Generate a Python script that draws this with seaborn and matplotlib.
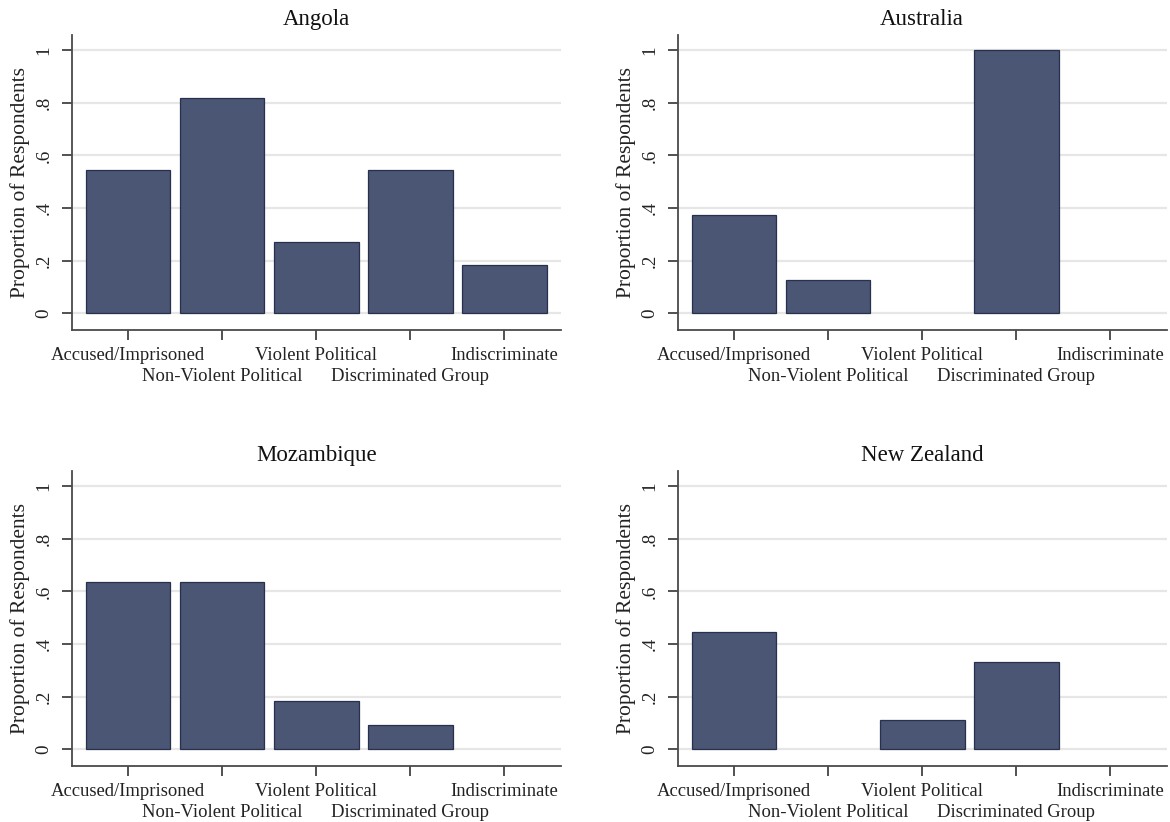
import matplotlib
matplotlib.use("Agg")
import matplotlib.pyplot as plt
import seaborn as sns
import pandas as pd

categories = ["Accused/Imprisoned", "Non-Violent Political", "Violent Political",
              "Discriminated Group", "Indiscriminate"]
countries = ["Angola", "Australia", "Mozambique", "New Zealand"]
angola = [0.545, 0.818, 0.273, 0.545, 0.182]
australia = [0.375, 0.125, 0.0, 1.0, 0.0]
mozambique = [0.636, 0.636, 0.182, 0.091, 0.0]
new_zealand = [0.444, 0.0, 0.111, 0.333, 0.0]
yticks = [0, 0.2, 0.4, 0.6, 0.8, 1.0]
ytick_labels = ["0", ".2", ".4", ".6", ".8", "1"]
ylabel = "Proportion of Respondents"

series = [angola, australia, mozambique, new_zealand]

sns.set_theme(style="white")
plt.rcParams["font.family"] = ["Liberation Serif", "DejaVu Serif"]

W, H = 1170, 822
fig = plt.figure(figsize=(W / 100, H / 100), dpi=100)

bar_color = "#4b5574"
edge_color = "#27304c"
spine_color = "#4a4a4a"

# axes boxes in pixels: (left, top, right, bottom)
boxes = [
    (71.7, 35, 560.7, 330),
    (677.7, 35, 1166.7, 330),
    (71.7, 471, 560.7, 766),
    (677.7, 471, 1166.7, 766),
]

for name, vals, (l, t, r, b) in zip(countries, series, boxes):
    ax = fig.add_axes([l / W, 1 - b / H, (r - l) / W, (b - t) / H])
    df = pd.DataFrame({"category": categories, "value": vals})
    sns.barplot(data=df, x="category", y="value", ax=ax, color=bar_color,
                saturation=1, width=0.9, edgecolor=edge_color, linewidth=0.9,
                order=categories)
    for p in ax.patches:
        if p.get_height() == 0:
            p.set_visible(False)
    ax.set_xlim(-0.6, 4.6)
    ax.set_ylim(-0.063, 1.057)
    ax.set_axisbelow(True)
    ax.set_yticks(yticks)
    ax.set_yticklabels(ytick_labels, rotation=90, va="center", fontsize=13.7)
    ax.yaxis.grid(True, color="#e6e6e6", linewidth=1.6)
    ax.xaxis.grid(False)
    ax.set_xticks(range(len(categories)))
    ax.set_xticklabels(categories, fontsize=13.4)
    ax.tick_params(axis="both", which="both", direction="out", length=7,
                   width=1.1, color="#222222", bottom=True, left=True,
                   labelcolor="#222222")
    ax.tick_params(axis="y", pad=7)
    for i, tk in enumerate(ax.xaxis.get_major_ticks()):
        tk.set_pad(5 if i % 2 == 0 else 20.5)
    for s in ["top", "right"]:
        ax.spines[s].set_visible(False)
    for s in ["left", "bottom"]:
        ax.spines[s].set_color(spine_color)
        ax.spines[s].set_linewidth(1.3)
    ax.set_xlabel("")
    ax.set_ylabel(ylabel, fontsize=15.5, color="#222222", labelpad=4)
    ax.set_title(name, fontsize=16.5, color="#111111", pad=7)

fig.savefig("out.png", dpi=100, facecolor="white")
